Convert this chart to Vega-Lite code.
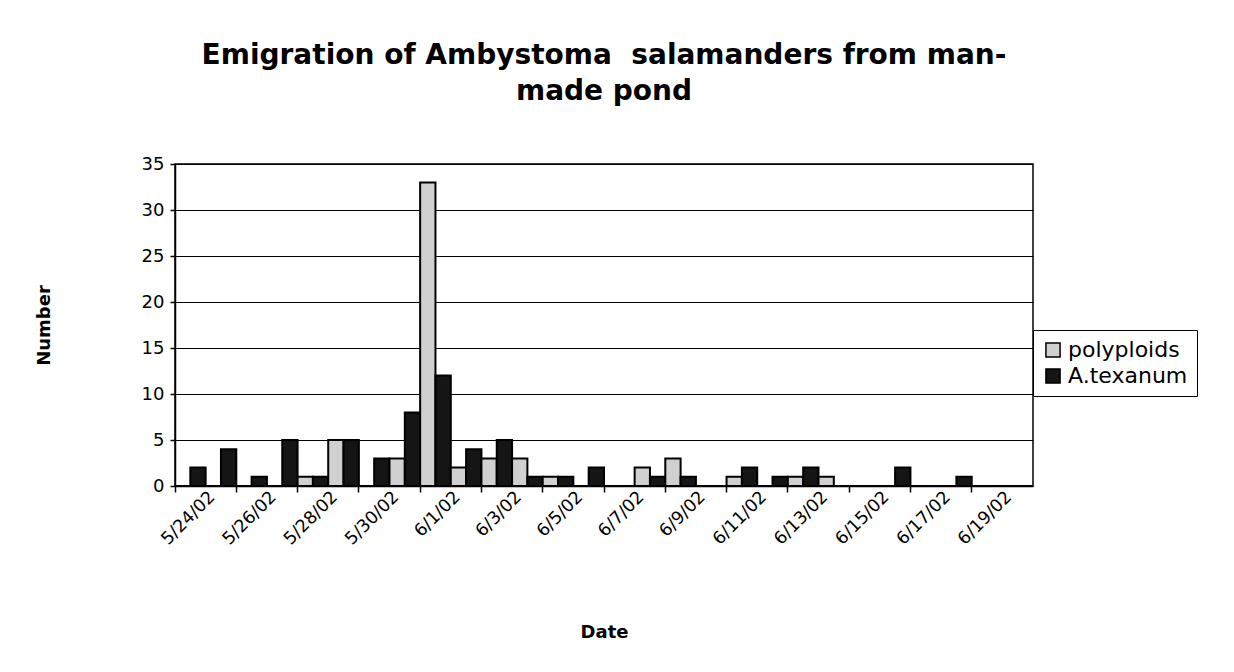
{
  "$schema": "https://vega.github.io/schema/vega-lite/v6.json",
  "autosize": "none",
  "width": 858,
  "height": 322,
  "padding": {"left": 175, "top": 164, "right": 201, "bottom": 186},
  "background": "white",
  "title": {
    "text": ["Emigration of Ambystoma\u00a0 salamanders from man-", "made pond"],
    "font": "DejaVu Sans",
    "fontSize": 28,
    "fontWeight": "bold",
    "lineHeight": 36,
    "anchor": "middle",
    "frame": "group",
    "offset": 49,
    "color": "black"
  },
  "data": {
    "values": [
      {"date": "5/24/02", "series": "polyploids", "count": 0},
      {"date": "5/24/02", "series": "A.texanum", "count": 2},
      {"date": "5/25/02", "series": "polyploids", "count": 0},
      {"date": "5/25/02", "series": "A.texanum", "count": 4},
      {"date": "5/26/02", "series": "polyploids", "count": 0},
      {"date": "5/26/02", "series": "A.texanum", "count": 1},
      {"date": "5/27/02", "series": "polyploids", "count": 0},
      {"date": "5/27/02", "series": "A.texanum", "count": 5},
      {"date": "5/28/02", "series": "polyploids", "count": 1},
      {"date": "5/28/02", "series": "A.texanum", "count": 1},
      {"date": "5/29/02", "series": "polyploids", "count": 5},
      {"date": "5/29/02", "series": "A.texanum", "count": 5},
      {"date": "5/30/02", "series": "polyploids", "count": 0},
      {"date": "5/30/02", "series": "A.texanum", "count": 3},
      {"date": "5/31/02", "series": "polyploids", "count": 3},
      {"date": "5/31/02", "series": "A.texanum", "count": 8},
      {"date": "6/1/02", "series": "polyploids", "count": 33},
      {"date": "6/1/02", "series": "A.texanum", "count": 12},
      {"date": "6/2/02", "series": "polyploids", "count": 2},
      {"date": "6/2/02", "series": "A.texanum", "count": 4},
      {"date": "6/3/02", "series": "polyploids", "count": 3},
      {"date": "6/3/02", "series": "A.texanum", "count": 5},
      {"date": "6/4/02", "series": "polyploids", "count": 3},
      {"date": "6/4/02", "series": "A.texanum", "count": 1},
      {"date": "6/5/02", "series": "polyploids", "count": 1},
      {"date": "6/5/02", "series": "A.texanum", "count": 1},
      {"date": "6/6/02", "series": "polyploids", "count": 0},
      {"date": "6/6/02", "series": "A.texanum", "count": 2},
      {"date": "6/7/02", "series": "polyploids", "count": 0},
      {"date": "6/7/02", "series": "A.texanum", "count": 0},
      {"date": "6/8/02", "series": "polyploids", "count": 2},
      {"date": "6/8/02", "series": "A.texanum", "count": 1},
      {"date": "6/9/02", "series": "polyploids", "count": 3},
      {"date": "6/9/02", "series": "A.texanum", "count": 1},
      {"date": "6/10/02", "series": "polyploids", "count": 0},
      {"date": "6/10/02", "series": "A.texanum", "count": 0},
      {"date": "6/11/02", "series": "polyploids", "count": 1},
      {"date": "6/11/02", "series": "A.texanum", "count": 2},
      {"date": "6/12/02", "series": "polyploids", "count": 0},
      {"date": "6/12/02", "series": "A.texanum", "count": 1},
      {"date": "6/13/02", "series": "polyploids", "count": 1},
      {"date": "6/13/02", "series": "A.texanum", "count": 2},
      {"date": "6/14/02", "series": "polyploids", "count": 1},
      {"date": "6/14/02", "series": "A.texanum", "count": 0},
      {"date": "6/15/02", "series": "polyploids", "count": 0},
      {"date": "6/15/02", "series": "A.texanum", "count": 0},
      {"date": "6/16/02", "series": "polyploids", "count": 0},
      {"date": "6/16/02", "series": "A.texanum", "count": 2},
      {"date": "6/17/02", "series": "polyploids", "count": 0},
      {"date": "6/17/02", "series": "A.texanum", "count": 0},
      {"date": "6/18/02", "series": "polyploids", "count": 0},
      {"date": "6/18/02", "series": "A.texanum", "count": 1},
      {"date": "6/19/02", "series": "polyploids", "count": 0},
      {"date": "6/19/02", "series": "A.texanum", "count": 0},
      {"date": "6/20/02", "series": "polyploids", "count": 0},
      {"date": "6/20/02", "series": "A.texanum", "count": 0}
    ]
  },
  "mark": {"type": "bar", "stroke": "black", "strokeWidth": 2},
  "encoding": {
    "x": {
      "field": "date",
      "type": "nominal",
      "sort": null,
      "scale": {"paddingInner": 0, "paddingOuter": 0},
      "axis": {
        "title": "Date",
        "titleFont": "DejaVu Sans",
        "titleFontSize": 18,
        "titleFontWeight": "bold",
        "titleColor": "black",
        "titlePadding": 76,
        "values": ["5/24/02", "5/26/02", "5/28/02", "5/30/02", "6/1/02", "6/3/02", "6/5/02", "6/7/02", "6/9/02", "6/11/02", "6/13/02", "6/15/02", "6/17/02", "6/19/02"],
        "bandPosition": 0,
        "labelOffset": 22,
        "labelAngle": -45,
        "labelAlign": "right",
        "labelBaseline": "middle",
        "labelFont": "DejaVu Sans",
        "labelFontSize": 17.5,
        "labelColor": "black",
        "labelPadding": 2,
        "tickColor": "black",
        "tickSize": 6,
        "tickWidth": 1.5,
        "domainColor": "black",
        "domainWidth": 1.5,
        "grid": false
      }
    },
    "xOffset": {
      "field": "series",
      "type": "nominal",
      "sort": ["polyploids", "A.texanum"],
      "scale": {"paddingInner": 0, "paddingOuter": 0}
    },
    "y": {
      "field": "count",
      "type": "quantitative",
      "scale": {"domain": [0, 35], "nice": false},
      "axis": {
        "title": "Number",
        "titleFont": "DejaVu Sans",
        "titleFontSize": 18,
        "titleFontWeight": "bold",
        "titleColor": "black",
        "titlePadding": 88,
        "values": [0, 5, 10, 15, 20, 25, 30, 35],
        "labelFont": "DejaVu Sans",
        "labelFontSize": 18,
        "labelColor": "black",
        "labelPadding": 6,
        "tickColor": "black",
        "tickSize": 5,
        "tickWidth": 1.5,
        "domainColor": "black",
        "domainWidth": 1.5,
        "grid": true,
        "gridColor": "black",
        "gridWidth": 1.2
      }
    },
    "color": {
      "field": "series",
      "type": "nominal",
      "sort": ["polyploids", "A.texanum"],
      "scale": {"domain": ["polyploids", "A.texanum"], "range": ["#d0d0d0", "#151515"]},
      "legend": {
        "title": null,
        "orient": "none",
        "legendX": 858,
        "legendY": 166,
        "labelFont": "DejaVu Sans",
        "labelFontSize": 22,
        "labelColor": "black",
        "symbolType": "square",
        "symbolSize": 200,
        "symbolStrokeColor": "black",
        "symbolStrokeWidth": 1.5,
        "strokeColor": "black",
        "padding": 9,
        "rowPadding": 4,
        "labelOffset": 4,
        "fillColor": "white"
      }
    }
  },
  "config": {
    "view": {"stroke": "black", "strokeWidth": 1.5}
  }
}
